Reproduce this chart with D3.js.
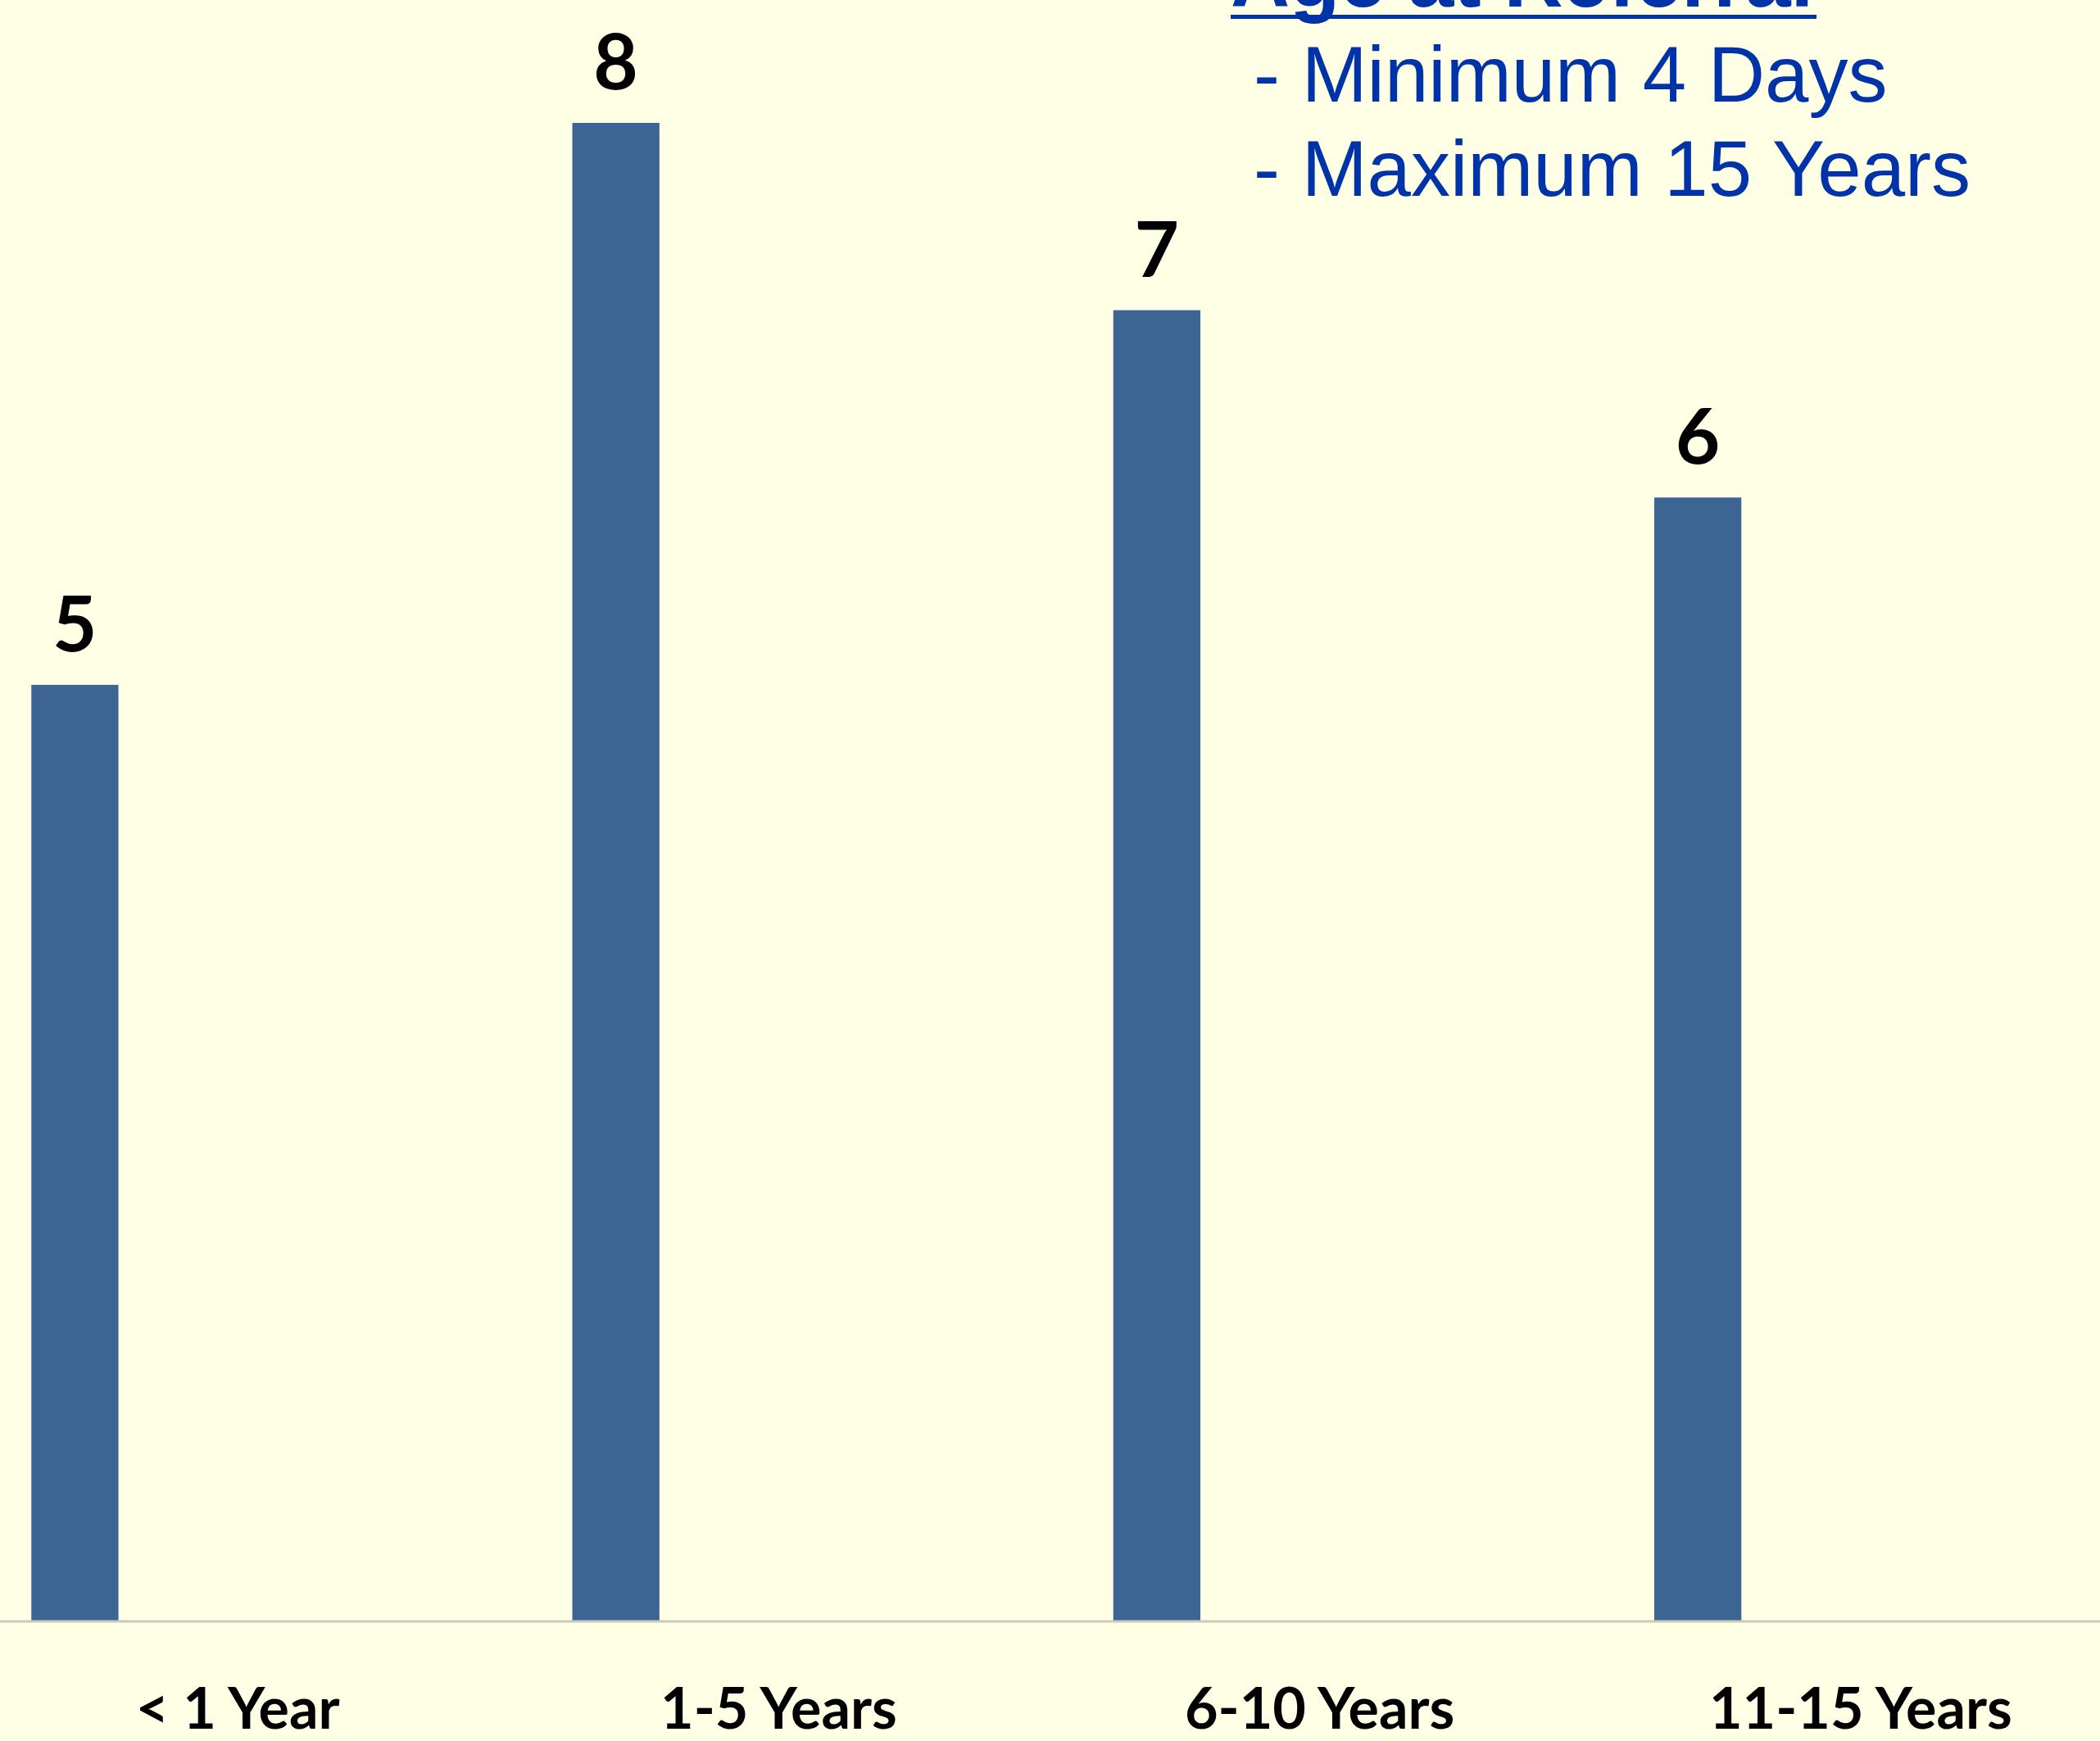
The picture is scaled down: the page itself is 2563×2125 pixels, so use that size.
<!DOCTYPE html>
<html>
<head>
<meta charset="utf-8">
<script src="https://cdn.jsdelivr.net/npm/d3@7"></script>
<style>
    html, body { margin: 0; padding: 0; background: #ffffe6; overflow: hidden; }
    svg { display: block; }
</style>
</head>
<body>
<div id="chart"></div>
<script>
const categories = ['< 1 Year', '1-5 Years', '6-10 Years', '11-15 Years'];
const counts = [5, 8, 7, 6];
const noteTitle = 'Age at Referral';
const noteLines = ['- Minimum 4 Days', '- Maximum 15 Years'];

const width = 2563;
const height = 2125;
const baseY = 1979;
const barColor = '#3d6594';
const noteColor = '#0033a8';

const svg = d3
    .select('#chart')
    .append('svg')
    .attr('width', width)
    .attr('height', height)
    .attr('viewBox', `0 0 ${width} ${height}`);

svg.append('rect').attr('width', width).attr('height', height).attr('fill', '#ffffe6');

// band per category, the chart is cropped a bit on the left
const x = d3.scaleBand().domain(categories).range([-40, 2601]);
const y = d3.scaleLinear().domain([0, 8]).range([baseY, 150]);

const barW = x.bandwidth() * 0.161;
const barCx = c => x(c) + x.bandwidth() * 0.199;

// bars
svg.append('g')
    .selectAll('rect')
    .data(categories)
    .join('rect')
    .attr('x', c => barCx(c) - barW / 2)
    .attr('y', (c, i) => y(counts[i]))
    .attr('width', barW)
    .attr('height', (c, i) => y(0) - y(counts[i]))
    .attr('fill', barColor);

// value labels
svg.append('g')
    .selectAll('text')
    .data(categories)
    .join('text')
    .attr('x', barCx)
    .attr('y', (c, i) => y(counts[i]) - 41)
    .attr('text-anchor', 'middle')
    .style('font', 'bold 94px Lato, sans-serif')
    .attr('fill', '#000')
    .text((c, i) => counts[i]);

// x axis
const axis = svg
    .append('g')
    .attr('transform', `translate(0,${baseY})`)
    .call(d3.axisBottom(x).tickSize(0).tickSizeOuter(0));

axis.select('.domain')
    .attr('d', `M0,0H${width}`)
    .attr('stroke', '#c9c9bc')
    .attr('stroke-width', 3);

axis.selectAll('text')
    .attr('y', 131)
    .attr('dy', 0)
    .attr('fill', '#000')
    .style('font', 'bold 70px Lato, sans-serif');

// note in the top right (title is cut by the top edge, as in the slide)
const note = svg.append('g').attr('fill', noteColor);

note.append('text')
    .attr('x', 1502)
    .attr('y', 8)
    .style('font', 'bold 100px "Liberation Sans", Arial, sans-serif')
    .text(noteTitle);

note.append('rect')
    .attr('x', 1502)
    .attr('y', 18)
    .attr('width', 715)
    .attr('height', 5);

note.selectAll('text.line')
    .data(noteLines)
    .join('text')
    .attr('class', 'line')
    .attr('x', 1530)
    .attr('y', (d, i) => 124 + i * 115)
    .style('font', '96px "Liberation Sans", Arial, sans-serif')
    .text(d => d);
</script>
</body>
</html>
